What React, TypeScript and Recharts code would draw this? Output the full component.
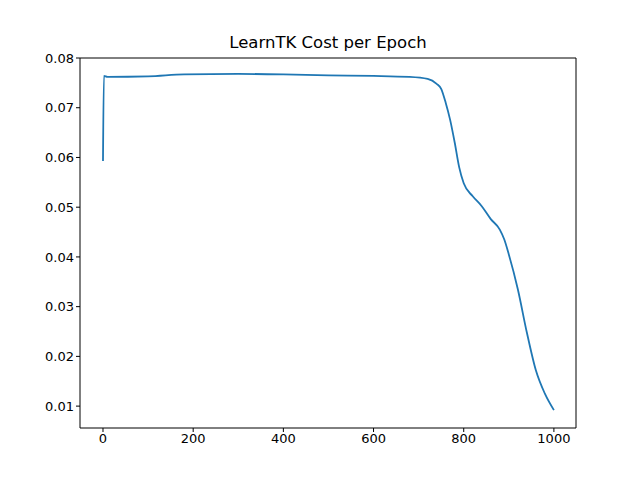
import React from 'react';
import { LineChart, Line, XAxis, YAxis, ReferenceLine } from 'recharts';

const epochs = [0, 2, 10, 100, 180, 300, 400, 500, 600, 680, 720, 740, 750, 760, 770, 780, 790, 800, 820, 840, 860, 880, 890, 900, 920, 940, 960, 980, 1000];
const costs = [0.0593, 0.0764, 0.0762, 0.0763, 0.0767, 0.0768, 0.0767, 0.0765, 0.0764, 0.0762, 0.0758, 0.0748, 0.0738, 0.071, 0.0675, 0.063, 0.058, 0.0548, 0.0522, 0.0502, 0.0476, 0.0455, 0.0435, 0.0405, 0.0335, 0.0248, 0.0172, 0.0125, 0.0092];
const xTicks = [0, 200, 400, 600, 800, 1000];
const yTicks = [0.01, 0.02, 0.03, 0.04, 0.05, 0.06, 0.07, 0.08];

const data = epochs.map((e, i) => ({ epoch: e, cost: costs[i] }));
const tickStyle = { fill: '#000', fontSize: 13, fontFamily: 'DejaVu Sans' };

export default function App() {
  return (
    <div style={{ position: 'absolute', left: 0, top: 0, width: 640, height: 480, background: '#fff' }}>
      <div style={{ position: 'absolute', top: 33, left: 80, width: 496, textAlign: 'center', fontFamily: 'DejaVu Sans', fontSize: 16.5 }}>
        LearnTK Cost per Epoch
      </div>
      <LineChart width={640} height={480} data={data} margin={{ top: 58, right: 64, left: 0, bottom: 0 }}>
        <XAxis dataKey="epoch" type="number" domain={[-51, 1049]} ticks={xTicks} height={52}
          stroke="#000" tick={tickStyle} tickSize={4} allowDataOverflow />
        <YAxis type="number" domain={[0.0056, 0.08]} ticks={yTicks} width={80}
          stroke="#000" tick={tickStyle} tickSize={4} allowDataOverflow tickFormatter={(v: number) => v.toFixed(2)} />
        <ReferenceLine y={0.08} stroke="#000" />
        <ReferenceLine x={1049} stroke="#000" />
        <Line dataKey="cost" type="monotone" stroke="#1f77b4" strokeWidth={1.8} dot={false} isAnimationActive={false} />
      </LineChart>
    </div>
  );
}
